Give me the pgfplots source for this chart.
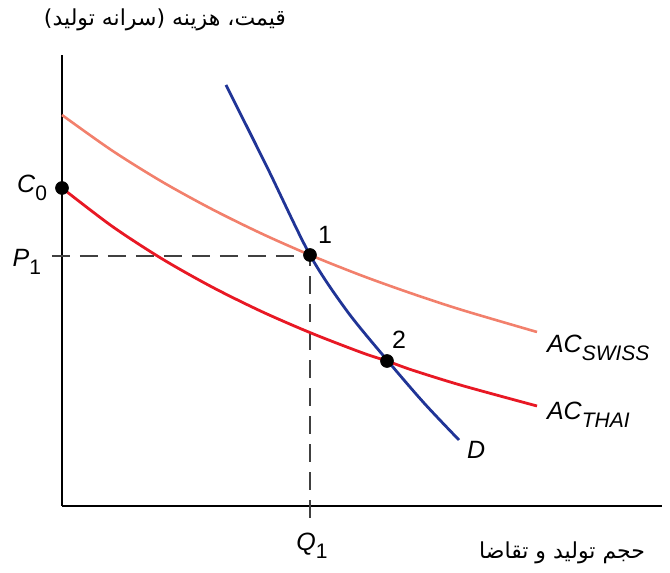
\documentclass[border=0pt]{standalone}
\usepackage{pgfplots}
\pgfplotsset{compat=1.18}
\usepackage{fontspec}
\setmainfont{Liberation Sans}
\newfontfamily\arabicfont[Script=Arabic]{DejaVu Sans}
\TeXXeTstate=1
\definecolor{swiss}{RGB}{242,128,108}
\definecolor{thai}{RGB}{232,24,36}
\definecolor{dem}{RGB}{32,52,150}
\newcommand{\sub}[1]{\raisebox{-3.8pt}{\fontsize{10.5}{11}\selectfont #1}}
\begin{document}
\begin{tikzpicture}[x=0.5pt,y=0.5pt]
\begin{axis}[
  scale only axis, width=300pt, height=225.5pt,
  xmin=0, xmax=600, ymin=0, ymax=451,
  axis lines=left, axis line style={line width=1.3pt,-},
  ticks=none, clip=false,
  font=\fontsize{12.5}{14}\selectfont,
]
% dashed guides
\addplot[black!75, line width=0.9pt, dash pattern=on 9pt off 5pt] coordinates {(-10,250) (248,250)};
\addplot[black!75, line width=0.9pt, dash pattern=on 9pt off 5pt] coordinates {(248,-12) (248,250)};
% AC Swiss
\addplot[swiss, line width=1.3pt, smooth] coordinates {
(0,391) (50,355.5) (100,324.3) (150,296.8) (200,272.2) (248,251)
(300,230.3) (350,212.4) (400,196.0) (475,174)};
% AC Thai
\addplot[thai, line width=1.4pt, smooth] coordinates {
(0,318) (50,279.8) (100,247.2) (150,219.0) (200,194.3) (250,172.6)
(300,153.3) (325,145) (350,136.0) (400,120.5) (475,100)};
% Demand
\addplot[dem, line width=1.4pt, smooth] coordinates {
(164,421) (205,339) (248,251) (285,195) (325,146) (362,103) (397,66)};
% dots
\addplot[only marks, mark=*, mark size=3.2pt, black] coordinates {(0,318) (248,251) (325,145)};
% labels
\node[anchor=east] at (axis cs:-8,318) {\itshape C\sub{\upshape 0}};
\node[anchor=east] at (axis cs:-14,244) {\itshape P\sub{\upshape 1}};
\node at (axis cs:263,271) {1};
\node at (axis cs:337,166) {2};
\node[anchor=north] at (axis cs:250,-20) {\itshape Q\sub{\upshape 1}};
\node[anchor=west] at (axis cs:478,158) {\itshape AC\sub{\itshape SWISS}};
\node[anchor=west] at (axis cs:478,91) {\itshape AC\sub{\itshape THAI}};
\node[anchor=west] at (axis cs:398,56) {\itshape D};
\node[font=\arabicfont\fontsize{11}{13}\selectfont] at (axis cs:103,486) {\beginR قیمت، هزینه (سرانه تولید)\endR};
\node[font=\arabicfont\fontsize{11}{13}\selectfont, anchor=east] at (axis cs:590,-47) {\beginR حجم تولید و تقاضا\endR};
\coordinate (bl) at (axis cs:-62,-67);
\coordinate (tr) at (axis cs:608,506);
\end{axis}
\pgfresetboundingbox
\useasboundingbox (bl) rectangle (tr);
\end{tikzpicture}
\end{document}
